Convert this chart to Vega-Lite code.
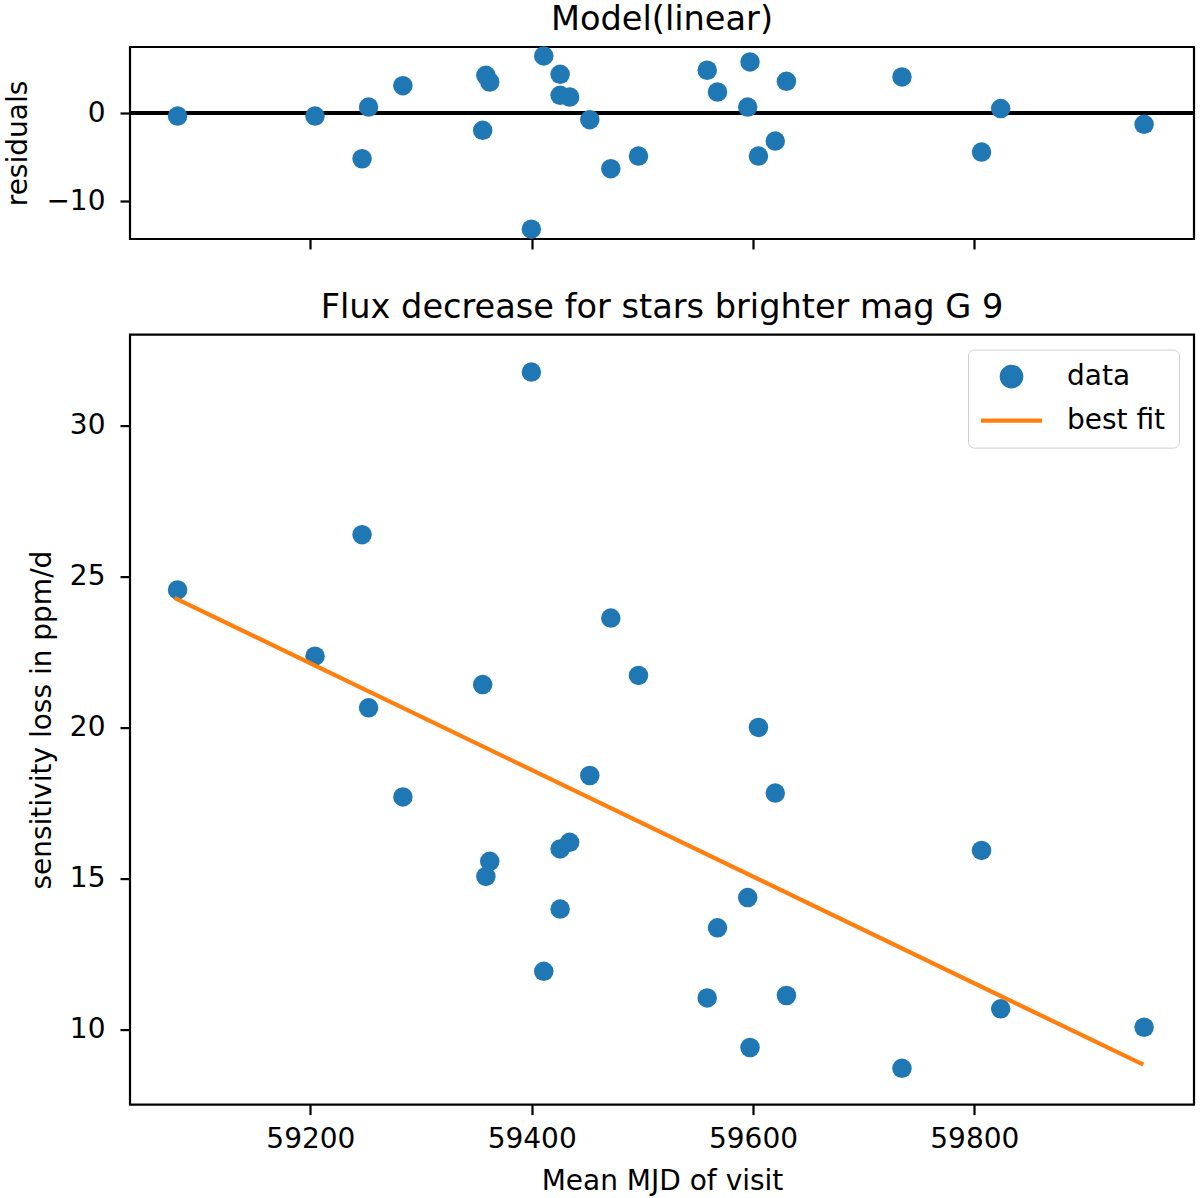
{
  "$schema": "https://vega.github.io/schema/vega-lite/v6.json",
  "padding": {"left": 3, "top": 1, "right": 5, "bottom": 2},
  "background": "white",
  "spacing": 37.6,
  "datasets": {
    "visits": [
      {"mjd": 59080.0, "loss": 24.55, "residual": -0.34},
      {"mjd": 59204.2, "loss": 22.36, "residual": -0.34},
      {"mjd": 59246.7, "loss": 26.38, "residual": -5.17},
      {"mjd": 59252.6, "loss": 20.65, "residual": 0.68},
      {"mjd": 59283.6, "loss": 17.70, "residual": 3.10},
      {"mjd": 59355.7, "loss": 21.42, "residual": -1.96},
      {"mjd": 59358.6, "loss": 15.07, "residual": 4.27},
      {"mjd": 59362.1, "loss": 15.57, "residual": 3.51},
      {"mjd": 59399.7, "loss": 31.76, "residual": -13.14},
      {"mjd": 59410.9, "loss": 11.93, "residual": 6.46},
      {"mjd": 59425.7, "loss": 13.99, "residual": 4.38},
      {"mjd": 59425.7, "loss": 15.98, "residual": 2.00},
      {"mjd": 59434.3, "loss": 16.20, "residual": 1.81},
      {"mjd": 59452.5, "loss": 18.41, "residual": -0.75},
      {"mjd": 59471.5, "loss": 23.62, "residual": -6.30},
      {"mjd": 59496.5, "loss": 21.72, "residual": -4.87},
      {"mjd": 59558.6, "loss": 11.05, "residual": 4.84},
      {"mjd": 59567.9, "loss": 13.37, "residual": 2.38},
      {"mjd": 59595.2, "loss": 14.37, "residual": 0.68},
      {"mjd": 59597.3, "loss": 9.41, "residual": 5.78},
      {"mjd": 59604.9, "loss": 20.00, "residual": -4.87},
      {"mjd": 59620.1, "loss": 17.83, "residual": -3.17},
      {"mjd": 59630.2, "loss": 11.13, "residual": 3.59},
      {"mjd": 59734.6, "loss": 8.72, "residual": 4.08},
      {"mjd": 59806.5, "loss": 15.93, "residual": -4.42},
      {"mjd": 59823.8, "loss": 10.69, "residual": 0.50},
      {"mjd": 59953.4, "loss": 10.08, "residual": -1.28}
    ],
    "fit": [
      {"mjd": 59077.2, "loss": 24.29},
      {"mjd": 59952.7, "loss": 8.84}
    ]
  },
  "resolve": {"legend": {"color": "independent"}, "scale": {"color": "independent"}},
  "vconcat": [
    {
      "width": 1064,
      "height": 192,
      "title": {"text": "Model(linear)"},
      "data": {"name": "visits"},
      "layer": [
        {
          "mark": {"type": "rule", "color": "black", "strokeWidth": 4},
          "encoding": {
            "y": {"datum": 0, "type": "quantitative"}
          }
        },
        {
          "mark": {"type": "circle", "size": 380, "opacity": 1, "color": "#1f77b4"},
          "encoding": {
            "x": {
              "field": "mjd",
              "type": "quantitative",
              "scale": {"domain": [59037, 59998.5], "nice": false, "zero": false},
              "axis": {"labels": false, "title": null, "values": [59200, 59400, 59600, 59800]}
            },
            "y": {
              "field": "residual",
              "type": "quantitative",
              "scale": {"domain": [-14.25, 7.47], "nice": false, "zero": false},
              "axis": {"title": "residuals", "values": [-10, 0], "labelExpr": "replace(datum.label, '-', '\u2212')"}
            }
          }
        }
      ]
    },
    {
      "width": 1064,
      "height": 770,
      "title": {"text": "Flux decrease for stars brighter mag G 9"},
      "layer": [
        {
          "data": {"name": "visits"},
          "mark": {"type": "circle", "size": 380, "opacity": 1},
          "encoding": {
            "x": {
              "field": "mjd",
              "type": "quantitative",
              "scale": {"domain": [59037, 59998.5], "nice": false, "zero": false},
              "axis": {"title": "Mean MJD of visit", "values": [59200, 59400, 59600, 59800], "format": "d"}
            },
            "y": {
              "field": "loss",
              "type": "quantitative",
              "scale": {"domain": [7.52, 33.0], "nice": false, "zero": false},
              "axis": {"title": "sensitivity loss in ppm/d", "values": [10, 15, 20, 25, 30]}
            },
            "color": {
              "datum": "data",
              "type": "nominal",
              "scale": {"domain": ["data", "best fit"], "range": ["#1f77b4", "#ff7f0e"]},
              "legend": {
                "title": null,
                "orient": "top-right",
                "offset": 15,
                "padding": 13,
                "fillColor": "white",
                "strokeColor": "#d0d0d0",
                "cornerRadius": 6,
                "symbolSize": 400,
                "symbolStrokeWidth": 4.2,
                "labelOffset": 58,
                "labelFont": "DejaVu Sans",
                "labelFontSize": 28,
                "labelColor": "black",
                "rowPadding": 11,
                "encode": {
                  "symbols": {
                    "update": {
                      "shape": {"signal": "datum.value === 'data' ? 'M2.625,0A0.975,0.975 0 1,1 0.675,0A0.975,0.975 0 1,1 2.625,0Z' : 'M-1.4,0H4.7'"},
                      "size": {"value": 400},
                      "strokeWidth": {"value": 4.2},
                      "fill": {"signal": "datum.value === 'data' ? '#1f77b4' : 'transparent'"},
                      "stroke": {"signal": "datum.value === 'data' ? 'transparent' : '#ff7f0e'"},
                      "opacity": {"value": 1}
                    }
                  }
                }
              }
            }
          }
        },
        {
          "data": {"name": "fit"},
          "mark": {"type": "line", "strokeWidth": 4.2},
          "encoding": {
            "x": {"field": "mjd", "type": "quantitative"},
            "y": {"field": "loss", "type": "quantitative"},
            "color": {
              "datum": "best fit",
              "type": "nominal",
              "legend": {
                "title": null,
                "orient": "top-right",
                "offset": 15,
                "padding": 13,
                "fillColor": "white",
                "strokeColor": "#d0d0d0",
                "cornerRadius": 6,
                "symbolSize": 400,
                "symbolStrokeWidth": 4.2,
                "labelOffset": 58,
                "labelFont": "DejaVu Sans",
                "labelFontSize": 28,
                "labelColor": "black",
                "rowPadding": 11,
                "encode": {
                  "symbols": {
                    "update": {
                      "shape": {"signal": "datum.value === 'data' ? 'M2.625,0A0.975,0.975 0 1,1 0.675,0A0.975,0.975 0 1,1 2.625,0Z' : 'M-1.4,0H4.7'"},
                      "size": {"value": 400},
                      "strokeWidth": {"value": 4.2},
                      "fill": {"signal": "datum.value === 'data' ? '#1f77b4' : 'transparent'"},
                      "stroke": {"signal": "datum.value === 'data' ? 'transparent' : '#ff7f0e'"},
                      "opacity": {"value": 1}
                    }
                  }
                }
              }
            }
          }
        }
      ]
    }
  ],
  "config": {
    "font": "DejaVu Sans",
    "view": {"stroke": "black", "strokeWidth": 2.2},
    "axis": {
      "domain": false,
      "grid": false,
      "ticks": true,
      "tickColor": "black",
      "tickWidth": 2.2,
      "tickSize": 10,
      "labelFont": "DejaVu Sans",
      "labelFontSize": 28,
      "labelColor": "black",
      "labelPadding": 11,
      "titleFont": "DejaVu Sans",
      "titleFontSize": 28,
      "titleFontWeight": "normal",
      "titleColor": "black"
    },
    "axisY": {"titlePadding": 13, "labelPadding": 15},
    "axisX": {"titlePadding": 14},
    "title": {
      "font": "DejaVu Sans",
      "fontSize": 33.6,
      "fontWeight": "normal",
      "color": "black",
      "anchor": "middle",
      "baseline": "alphabetic",
      "offset": 10
    }
  }
}
